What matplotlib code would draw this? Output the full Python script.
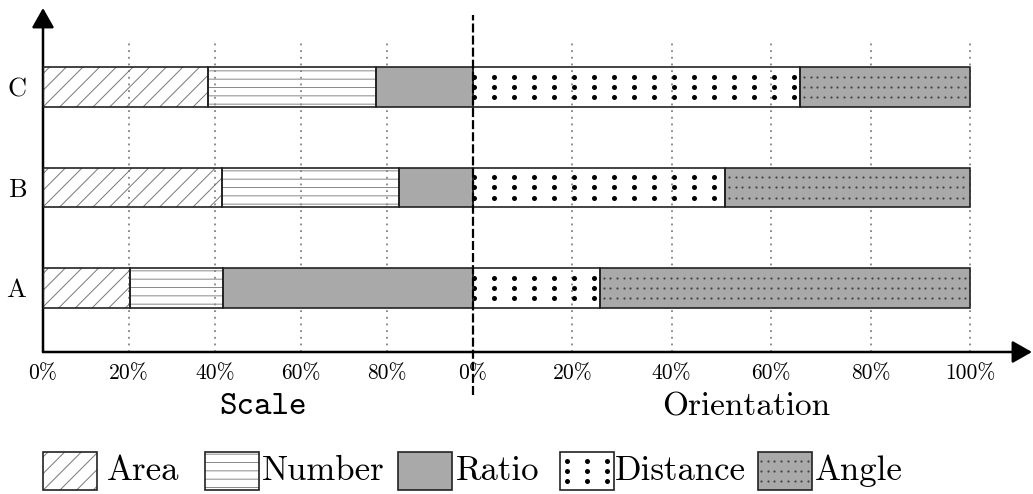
#Stacked bars of cue usage (Scale vs Orientation) for conditions A, B and C
import matplotlib
matplotlib.use("Agg")
import matplotlib.pyplot as plt
from matplotlib.patches import Rectangle
import numpy as np

plt.rcParams['font.family'] = 'cmr10'
plt.rcParams['lines.scale_dashes'] = False
plt.rcParams['hatch.linewidth'] = 0.7

# data (percent of each side)
categories = ["A", "B", "C"]
areaValues = [20.2, 41.6, 38.4]
numberValues = [21.7, 41.2, 39.0]
ratioValues = [58.1, 17.2, 22.6]
distanceValues = [25.5, 50.7, 65.8]
angleValues = [74.5, 49.3, 34.2]
tickPercents = [0, 20, 40, 60, 80, 100]
tickLabels = ["0%", "20%", "40%", "60%", "80%", "100%"]
groupLabels = ["Scale", "Orientation"]
legendNames = ["Area", "Number", "Ratio", "Distance", "Angle"]

# the left half is drawn narrower than the right half
leftScale = 0.865
rightOffset = 86.5
barHeight = 0.39
edgeColor = '#222222'
grayFill = '#a9a9a9'

W, H = 1033, 494
fig = plt.figure(figsize=(W / 100, H / 100), dpi=100)

#helper to turn figure pixels into figure fractions
def px(x0, y0, x1, y1):
    return [x0 / W, 1 - y1 / H, (x1 - x0) / W, (y1 - y0) / H]

ax = fig.add_axes(px(43, 8, 1032, 352))
ax.set_xlim(0, 989 / 4.97)
ax.set_ylim(-0.637, 2.786)
for s in ax.spines.values():
    s.set_visible(False)

#Function used to draw one bar segment with a given look
def drawSegment(axis, x0, width, y, h, kind):
    if kind == "area":
        axis.add_patch(Rectangle((x0, y - h / 2), width, h, facecolor='none', edgecolor='#777777',
                                 hatch='//', linewidth=0, zorder=2))
    elif kind == "number":
        axis.add_patch(Rectangle((x0, y - h / 2), width, h, facecolor='none', edgecolor='#888888',
                                 hatch='--', linewidth=0, zorder=2))
    elif kind in ("ratio", "angle"):
        axis.add_patch(Rectangle((x0, y - h / 2), width, h, facecolor=grayFill, linewidth=0, zorder=2))
    axis.add_patch(Rectangle((x0, y - h / 2), width, h, facecolor='none', edgecolor=edgeColor,
                             linewidth=1.2, zorder=4))

#Function used to put the dot patterns in a segment
def drawDots(axis, x0, x1, y, rowGap, step, start, size, color):
    xs = np.arange(x0 + start, x1 - step * 0.2, step)
    for dy in (-rowGap, 0, rowGap):
        axis.scatter(xs, np.full(len(xs), y + dy), s=size, color=color, linewidths=0, zorder=3)

# grid lines
gridTop = 2.44
gridStyle = (0, (1.3, 3.5))
for p in tickPercents[1:-1]:
    ax.vlines(p * leftScale, -0.637, gridTop, colors='#777777', linestyles=gridStyle, linewidth=1.2, zorder=1)
for p in tickPercents[1:]:
    ax.vlines(rightOffset + p, -0.637, gridTop, colors='#777777', linestyles=gridStyle, linewidth=1.2, zorder=1)

# bars
for i, cat in enumerate(categories):
    x = 0
    for val, kind in zip([areaValues[i], numberValues[i], ratioValues[i]], ["area", "number", "ratio"]):
        drawSegment(ax, x * leftScale, val * leftScale, i, barHeight, kind)
        x += val
    d = distanceValues[i]
    drawSegment(ax, rightOffset, d, i, barHeight, "distance")
    drawDots(ax, rightOffset, rightOffset + d, i, 0.1, 20 / 4.97, 0.3, 13, 'black')
    drawSegment(ax, rightOffset + d, angleValues[i], i, barHeight, "angle")
    drawDots(ax, rightOffset + d, rightOffset + d + angleValues[i], i, 0.1, 6.7 / 4.97, 0.8, 2.5, '#444444')

# dashed separator
ax.plot([rightOffset, rightOffset], [-1.065, 2.716], color='black', linewidth=1.6,
        dashes=(6.5, 2.2), clip_on=False, zorder=5)

# axes with arrows
ax.annotate('', xy=(0, 1), xytext=(0, 0), xycoords='axes fraction',
            arrowprops=dict(arrowstyle='-|>,head_length=0.6,head_width=0.34', mutation_scale=20,
                            color='black', lw=1.8, shrinkA=0, shrinkB=0), annotation_clip=False)
ax.annotate('', xy=(1, 0), xytext=(0, 0), xycoords='axes fraction',
            arrowprops=dict(arrowstyle='-|>,head_length=0.6,head_width=0.34', mutation_scale=20,
                            color='black', lw=1.8, shrinkA=0, shrinkB=0), annotation_clip=False)

# ticks
xticks = [p * leftScale for p in tickPercents[:-1]] + [rightOffset + p for p in tickPercents]
ax.set_xticks(xticks)
ax.set_xticklabels(tickLabels[:-1] + tickLabels, fontsize=15.5)
ax.get_xticklabels()[0].set_x(1.2)  # first label sits a bit right of the axis
ax.set_yticks(range(len(categories)))
ax.set_yticklabels(categories, fontsize=19)
ax.tick_params(axis='x', length=0, pad=8)
ax.tick_params(axis='y', length=0, pad=12)

# group titles
fig.text(263 / W, 1 - 407 / H, groupLabels[0], family='cmtt10', fontsize=24, ha='center', va='center')
fig.text(746 / W, 1 - 407 / H, groupLabels[1], fontsize=24, ha='center', va='center')

# legend drawn in pixel space
lax = fig.add_axes([0, 0, 1, 1])
lax.set_xlim(0, W)
lax.set_ylim(H, 0)
lax.axis('off')
boxX = [43, 205, 398, 560, 758]
textX = [107, 262, 456, 615, 815]
kinds = ["area", "number", "ratio", "distance", "angle"]
for bx, tx, kind, name in zip(boxX, textX, kinds, legendNames):
    drawSegment(lax, bx, 54, 471, 38, kind)
    if kind == "distance":
        drawDots(lax, bx, bx + 54, 471, 10, 20, 7, 13, 'black')
    if kind == "angle":
        drawDots(lax, bx, bx + 54, 471, 10, 6.7, 3, 2.5, '#444444')
    lax.text(tx, 471, name, fontsize=25, ha='left', va='center')

fig.savefig("out.png", dpi=100)
